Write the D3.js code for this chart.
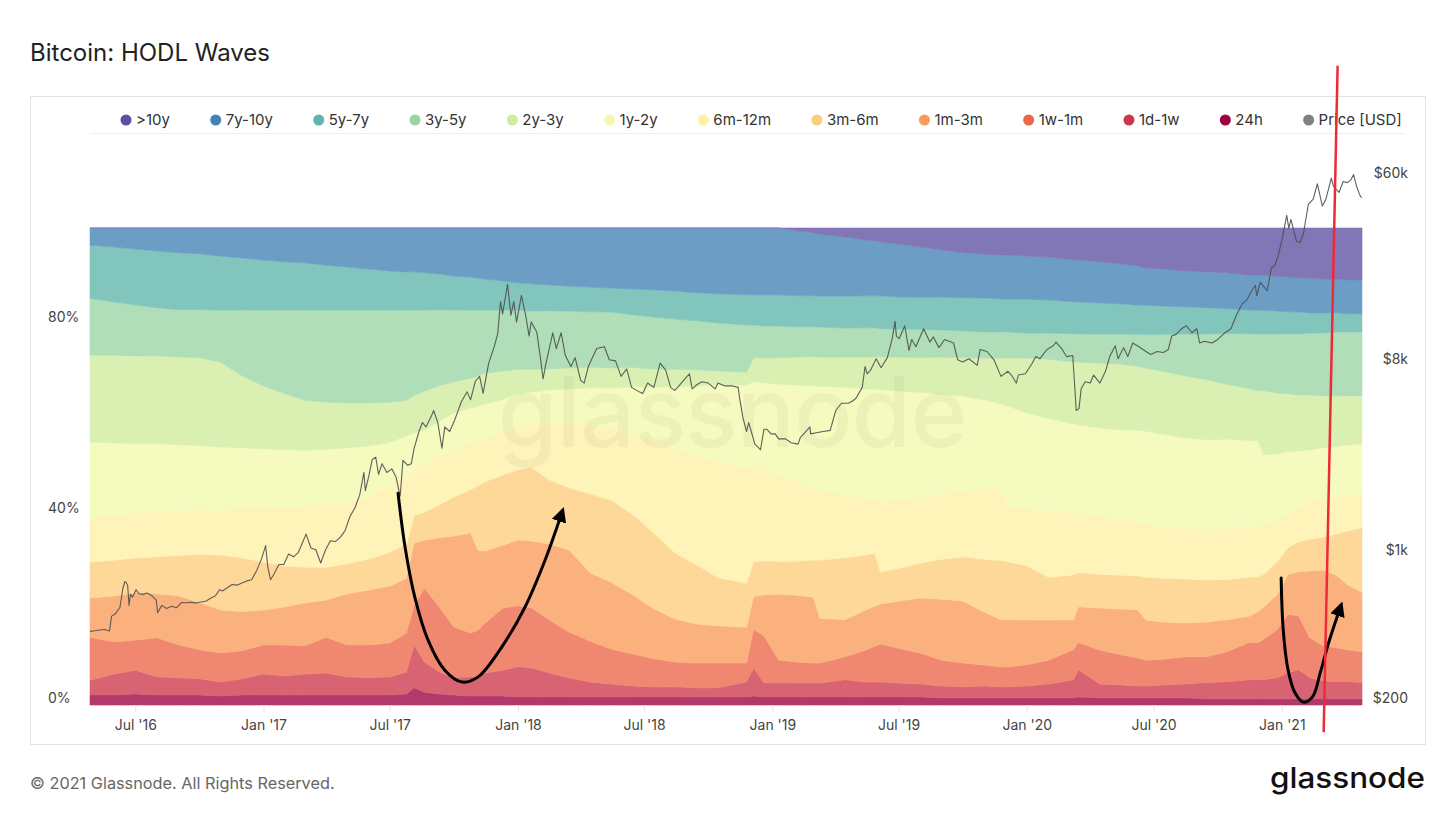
<!DOCTYPE html>
<html><head><meta charset="utf-8">
<script src="https://cdn.jsdelivr.net/npm/d3@7"></script>
<style>
html,body{margin:0;padding:0;background:#fff;}
svg{display:block;font-family:Inter,"Noto Sans",sans-serif;}
</style></head><body>
<svg id="chart" width="1456" height="819"></svg>
<script>
// ---------------- DATA ----------------
const bandDates = ["2016-04-27","2016-06-01","2016-07-01","2016-08-01","2016-09-01","2016-10-01","2016-11-01","2016-12-01","2017-01-01","2017-02-01",
"2017-03-01","2017-04-01","2017-05-01","2017-06-01","2017-07-01","2017-07-25","2017-08-05","2017-08-20","2017-09-10","2017-10-01",
"2017-10-25","2017-11-05","2017-11-15","2017-12-10","2018-01-01","2018-01-20","2018-02-15","2018-03-15","2018-04-15","2018-05-15",
"2018-06-15","2018-07-15","2018-08-15","2018-09-15","2018-10-15","2018-11-25","2018-12-05","2018-12-20","2019-01-10","2019-02-05",
"2019-03-01","2019-03-10","2019-04-15","2019-05-15","2019-05-28","2019-06-05","2019-07-01","2019-08-01","2019-09-01","2019-10-01",
"2019-11-01","2019-11-25","2019-12-05","2020-01-01","2020-02-01","2020-03-08","2020-03-15","2020-04-15","2020-05-15","2020-06-08",
"2020-06-20","2020-07-15","2020-08-15","2020-09-15","2020-10-15","2020-11-15","2020-11-28","2020-12-05","2020-12-25","2021-01-10",
"2021-01-25","2021-02-10","2021-03-01","2021-03-20","2021-04-05","2021-04-26"];

// share of supply per age band, percent
const h24 = [2.1,2.1,2.3,2.1,2.1,2.1,1.9,2.1,2.1,2.1,
 2.1,2.1,2.1,2.1,2.1,2.3,3.6,2.7,2.3,2.1,
 1.9,1.9,1.9,1.9,1.7,1.7,1.7,1.7,1.7,1.7,
 1.7,1.7,1.7,1.7,1.7,1.7,1.9,1.7,1.7,1.7,
 1.7,1.7,1.7,1.7,1.7,1.7,1.7,1.7,1.5,1.5,
 1.5,1.5,1.5,1.5,1.5,1.5,1.7,1.5,1.5,1.5,
 1.5,1.5,1.5,1.3,1.3,1.3,1.3,1.3,1.3,1.3,
 1.3,1.3,1.3,1.3,1.3,1.3];
const d1w = [3.1,4.4,5.0,3.8,3.6,3.4,2.9,3.4,4.4,4.0,
 4.4,4.6,3.8,3.6,3.8,4.6,9.0,6.3,4.6,3.6,
 4.0,4.2,4.8,5.4,6.3,6.1,5.0,4.0,3.1,2.7,
 2.3,2.1,2.1,1.9,1.9,3.1,5.9,2.9,2.9,2.9,
 2.9,2.9,3.6,3.1,3.1,3.1,2.9,2.7,2.5,2.3,
 2.5,2.3,2.3,2.5,2.9,3.8,5.7,2.9,2.7,2.5,
 2.5,2.7,2.9,3.4,3.6,4.0,4.0,4.0,4.4,5.5,
 6.1,4.4,3.8,3.6,3.6,3.4];
const w1m = [9.0,6.7,6.3,8.2,6.9,6.1,6.1,5.9,6.1,6.5,
 5.9,7.5,6.7,6.9,7.1,8.2,8.4,15.5,13.6,10.7,
 9.2,9.6,10.5,13.0,12.8,12.6,11.1,9.6,8.6,7.3,
 6.7,5.9,5.2,5.2,5.2,4.0,8.0,9.9,4.8,4.4,
 4.2,4.2,4.8,6.7,7.5,8.0,7.3,6.5,5.4,5.0,
 4.4,4.2,4.2,4.4,5.0,6.3,5.7,7.1,6.3,5.9,
 5.4,5.4,5.7,5.4,6.3,7.8,7.8,8.4,10.1,12.2,
 11.3,8.4,7.3,7.1,6.7,6.5];
const m1m3 = [8.2,9.6,9.9,9.2,10.3,9.9,9.0,8.2,7.3,8.0,
 9.0,7.8,10.7,11.5,11.9,11.5,13.0,10.1,14.5,19.1,
 21.0,16.6,15.1,13.2,13.8,14.0,15.9,17.2,14.3,14.0,
 12.4,10.5,9.0,8.2,7.8,7.5,6.9,8.6,13.8,14.0,
 13.8,9.4,7.8,8.4,8.4,8.4,9.9,11.5,12.8,13.0,
 11.1,9.9,9.9,9.4,8.4,6.3,7.5,8.8,9.6,10.1,
 8.4,7.8,7.1,7.3,6.7,5.5,6.5,6.7,7.3,8.4,
 9.2,14.0,15.9,15.3,13.6,12.4];
const m3m6 = [7.5,7.5,7.3,7.8,8.4,10.1,11.5,11.3,10.1,8.6,
 7.5,6.9,6.3,6.5,7.1,7.1,5.7,5.9,6.9,8.2,
 9.0,13.6,14.5,14.7,14.7,15.5,13.4,13.0,16.6,17.2,
 16.8,15.9,13.8,12.4,10.1,9.2,7.3,7.1,6.9,7.1,
 7.8,12.2,13.0,11.5,11.1,6.7,6.9,7.3,8.4,9.2,
 11.1,12.4,12.2,11.3,9.0,9.4,7.1,7.1,7.1,7.1,
 9.0,9.2,9.2,8.8,8.4,8.2,7.3,6.9,6.9,5.7,
 6.3,6.7,6.9,8.6,11.3,13.6];
const m6m12 = [9.4,9.4,9.4,9.4,9.4,9.4,9.4,10.3,11.1,12.2,
 12.8,13.0,12.8,13.0,14.0,14.5,9.6,10.1,10.1,9.9,
 9.6,9.4,9.2,9.0,9.2,9.2,11.9,13.4,14.5,15.3,
 16.8,19.1,22.0,23.1,24.3,24.1,20.3,19.1,18.0,16.6,
 14.9,14.7,13.2,11.7,10.9,14.7,14.3,13.8,13.6,13.8,
 14.7,15.3,11.5,11.9,13.8,13.0,12.6,12.2,11.7,11.3,
 11.1,10.7,10.5,10.5,10.7,10.7,10.7,10.5,8.8,6.9,
 7.1,7.8,7.8,7.8,7.5,7.3];
const y1y2 = [15.7,15.1,14.5,14.3,13.8,13.4,13.2,12.8,12.6,12.2,
 11.7,11.7,11.5,10.7,9.0,8.2,7.8,7.1,7.3,7.8,
 7.5,7.3,7.1,6.9,6.7,6.5,6.9,7.3,7.8,8.2,
 10.1,11.5,13.0,14.5,16.1,17.4,17.4,18.2,19.1,20.3,
 21.6,21.8,22.6,23.1,23.5,23.5,22.9,22.0,21.0,19.9,
 18.7,17.6,21.2,20.1,19.5,18.7,18.4,18.4,18.7,19.3,
 19.5,19.5,19.1,18.9,18.7,18.0,17.8,14.7,13.8,13.2,
 11.9,10.9,10.9,10.5,10.5,10.3];
const y2y3 = [18.2,18.4,18.4,18.4,18.4,18.4,17.8,15.1,13.2,11.7,
 10.5,9.9,9.4,9.0,8.4,7.5,7.8,8.2,7.5,6.5,
 6.3,6.3,6.5,5.9,5.2,4.8,4.4,4.4,4.2,4.2,
 4.0,3.8,3.6,3.4,2.9,2.7,5.0,5.2,5.5,5.9,
 6.1,6.1,6.3,6.7,6.7,6.9,7.1,7.3,7.8,8.0,
 8.8,9.6,10.1,11.5,12.4,13.0,13.2,13.6,13.8,13.4,
 13.2,13.2,13.0,12.6,11.5,10.9,10.5,13.4,12.8,12.2,
 11.7,11.5,10.9,10.7,10.3,10.1];
const y3y5 = [11.9,11.1,10.7,10.1,9.9,10.1,10.9,13.8,15.9,17.6,
 18.9,19.3,19.5,19.5,19.3,18.9,18.0,17.0,15.9,15.1,
 14.3,13.8,13.2,12.8,12.4,12.2,12.2,11.9,11.7,11.7,
 11.1,10.9,10.5,10.3,10.1,9.9,6.9,6.7,6.7,6.3,
 6.3,6.3,6.1,6.1,6.1,5.9,5.9,5.9,5.7,5.7,
 5.5,5.5,5.5,5.2,5.5,5.9,5.9,6.1,6.3,6.7,
 7.1,7.8,8.8,9.6,10.7,11.5,11.9,11.9,12.4,12.6,
 12.8,13.0,13.2,13.4,13.4,13.4];
const y5y7 = [11.1,11.5,11.7,11.9,11.9,11.7,11.3,10.9,10.5,10.1,
 9.9,9.4,9.0,8.6,8.2,8.0,8.0,7.8,7.5,7.1,
 6.9,6.7,6.5,6.1,5.7,5.7,5.4,5.2,5.2,5.0,
 5.4,5.7,5.9,5.9,6.1,6.3,6.3,6.5,6.5,6.5,
 6.5,6.5,6.7,6.7,6.7,6.9,6.7,6.7,6.9,6.9,
 7.1,6.9,6.9,7.1,6.9,6.7,6.7,6.5,6.3,6.1,
 6.1,5.9,5.7,5.5,5.2,5.0,5.0,5.0,4.8,4.6,
 4.6,4.2,4.2,4.0,3.8,3.8];
const y7y10 = [3.6,4.0,4.4,4.8,5.2,5.4,5.9,6.3,6.7,7.1,
 7.3,7.8,8.2,8.6,9.0,9.2,9.2,9.4,9.6,10.1,
 10.3,10.5,10.7,11.1,11.5,11.7,11.9,12.2,12.4,12.6,
 12.8,13.0,13.2,13.6,13.8,14.0,14.0,14.0,14.0,13.6,
 13.2,13.0,12.4,11.7,11.5,11.3,11.1,10.5,9.9,9.4,
 9.2,9.2,9.2,9.0,9.0,8.8,8.8,8.6,8.4,8.2,
 7.8,7.8,7.5,7.5,7.5,7.3,7.3,7.3,7.3,7.3,
 7.1,7.3,7.1,7.1,7.1,7.1];
const y10plus = [0,0,0,0,0,0,0,0,0,0,
 0,0,0,0,0,0,0,0,0,0,
 0,0,0,0,0,0,0,0,0,0,
 0,0,0,0,0,0,0,0,0,0.6,
 1.0,1.3,1.9,2.5,2.7,2.9,3.4,4.0,4.6,5.2,
 5.5,5.7,5.7,5.9,6.1,6.7,6.7,7.1,7.5,8.0,
 8.4,8.6,9.0,9.2,9.4,9.9,9.9,9.9,10.1,10.3,
 10.5,10.5,10.7,10.7,10.9,10.9];

// bottom -> top
const bandKeys = ["24h","1d-1w","1w-1m","1m-3m","3m-6m","6m-12m","1y-2y","2y-3y","3y-5y","5y-7y","7y-10y",">10y"];
const bandValues = [h24,d1w,w1m,m1m3,m3m6,m6m12,y1y2,y2y3,y3y5,y5y7,y7y10,y10plus];
const legendOrder = [">10y","7y-10y","5y-7y","3y-5y","2y-3y","1y-2y","6m-12m","3m-6m","1m-3m","1w-1m","1d-1w","24h"];

// BTC price, USD
const price = [
["2016-04-27",445],["2016-05-04",448],["2016-05-11",452],["2016-05-18",454],["2016-05-25",447],["2016-05-28",525],
["2016-06-02",537],["2016-06-09",578],["2016-06-13",705],["2016-06-16",765],["2016-06-18",755],["2016-06-20",735],
["2016-06-22",590],["2016-06-24",665],["2016-06-27",645],["2016-07-02",700],["2016-07-06",670],["2016-07-12",665],
["2016-07-18",675],["2016-07-25",655],["2016-07-31",625],["2016-08-02",545],["2016-08-08",590],["2016-08-15",570],
["2016-08-22",585],["2016-08-29",575],["2016-09-05",608],["2016-09-12",607],["2016-09-19",610],["2016-09-26",605],
["2016-10-03",612],["2016-10-10",617],["2016-10-17",638],["2016-10-24",655],["2016-10-30",700],["2016-11-03",690],
["2016-11-10",715],["2016-11-17",740],["2016-11-24",735],["2016-12-01",752],["2016-12-08",770],["2016-12-15",780],
["2016-12-22",860],["2016-12-29",975],["2017-01-04",1130],["2017-01-07",900],["2017-01-11",780],["2017-01-16",830],
["2017-01-23",920],["2017-01-30",920],["2017-02-06",1030],["2017-02-13",1000],["2017-02-20",1050],["2017-02-27",1190],
["2017-03-03",1280],["2017-03-10",1100],["2017-03-17",1080],["2017-03-24",935],["2017-03-31",1080],["2017-04-07",1190],
["2017-04-14",1180],["2017-04-21",1235],["2017-04-28",1330],["2017-05-05",1550],["2017-05-12",1700],["2017-05-19",1960],
["2017-05-25",2500],["2017-05-27",2050],["2017-06-01",2400],["2017-06-06",2880],["2017-06-11",2950],["2017-06-15",2450],
["2017-06-20",2750],["2017-06-27",2500],["2017-07-04",2600],["2017-07-10",2380],["2017-07-16",1930],["2017-07-20",2850],
["2017-07-27",2700],["2017-08-01",2750],["2017-08-05",3250],["2017-08-12",3900],["2017-08-17",4300],["2017-08-22",4100],
["2017-08-31",4700],["2017-09-02",4900],["2017-09-08",4300],["2017-09-14",3250],["2017-09-18",4100],["2017-09-25",3900],
["2017-10-02",4400],["2017-10-12",5400],["2017-10-20",6000],["2017-10-25",5500],["2017-11-01",6750],["2017-11-07",7100],
["2017-11-12",5900],["2017-11-20",8200],["2017-11-28",9800],["2017-12-03",11300],["2017-12-07",16000],["2017-12-10",14000],
["2017-12-17",19300],["2017-12-22",13800],["2017-12-26",16000],["2017-12-30",12800],["2018-01-06",17100],["2018-01-12",13800],
["2018-01-17",11000],["2018-01-20",12800],["2018-01-28",11500],["2018-02-02",8800],["2018-02-06",6900],["2018-02-10",8100],
["2018-02-20",11400],["2018-02-25",9600],["2018-03-04",11400],["2018-03-10",8900],["2018-03-18",7900],["2018-03-24",8700],
["2018-04-01",6800],["2018-04-06",6600],["2018-04-12",7900],["2018-04-24",9600],["2018-05-05",9800],["2018-05-12",8500],
["2018-05-21",8400],["2018-05-29",7100],["2018-06-06",7700],["2018-06-13",6300],["2018-06-24",6000],["2018-06-29",5900],
["2018-07-06",6600],["2018-07-15",6300],["2018-07-24",8200],["2018-08-01",7600],["2018-08-08",6300],["2018-08-14",6100],
["2018-08-20",6400],["2018-08-30",7000],["2018-09-04",7300],["2018-09-08",6200],["2018-09-15",6500],["2018-09-22",6700],
["2018-10-01",6600],["2018-10-11",6200],["2018-10-15",6600],["2018-10-25",6400],["2018-11-05",6400],["2018-11-13",6300],
["2018-11-15",5600],["2018-11-20",4500],["2018-11-25",3900],["2018-11-28",4300],["2018-12-07",3400],["2018-12-15",3200],
["2018-12-20",4000],["2018-12-24",4000],["2018-12-30",3800],["2019-01-05",3800],["2019-01-10",3600],["2019-01-20",3600],
["2019-01-28",3450],["2019-02-07",3400],["2019-02-10",3650],["2019-02-18",3900],["2019-02-24",4100],["2019-02-25",3800],
["2019-03-05",3850],["2019-03-15",3900],["2019-03-25",3950],["2019-04-02",4900],["2019-04-10",5300],["2019-04-20",5300],
["2019-04-25",5400],["2019-05-01",5600],["2019-05-10",6300],["2019-05-14",7900],["2019-05-17",7300],["2019-05-22",7600],
["2019-05-30",8600],["2019-06-06",7800],["2019-06-15",8700],["2019-06-22",10700],["2019-06-26",12900],["2019-06-28",11000],
["2019-07-02",10700],["2019-07-10",12300],["2019-07-16",9400],["2019-07-20",10600],["2019-07-26",9800],["2019-08-06",11900],
["2019-08-15",10300],["2019-08-20",10900],["2019-08-28",9700],["2019-09-05",10600],["2019-09-18",10200],["2019-09-24",8500],
["2019-10-01",8300],["2019-10-10",8600],["2019-10-22",8000],["2019-10-26",9500],["2019-11-05",9300],["2019-11-15",8500],
["2019-11-25",7100],["2019-12-05",7500],["2019-12-10",7200],["2019-12-17",6600],["2019-12-20",7200],["2019-12-30",7300],
["2020-01-08",8100],["2020-01-14",8800],["2020-01-20",8600],["2020-01-30",9500],["2020-02-08",9900],["2020-02-12",10300],
["2020-02-20",9600],["2020-02-27",8800],["2020-03-07",8900],["2020-03-12",4900],["2020-03-16",5000],["2020-03-19",6200],
["2020-03-25",6700],["2020-04-01",6600],["2020-04-06",7200],["2020-04-15",6600],["2020-04-23",7500],["2020-04-29",8800],
["2020-05-07",9900],["2020-05-11",8600],["2020-05-19",9700],["2020-05-25",8800],["2020-06-01",10200],["2020-06-10",9800],
["2020-06-20",9300],["2020-06-27",9000],["2020-07-06",9300],["2020-07-15",9200],["2020-07-22",9500],["2020-07-27",11000],
["2020-08-02",11200],["2020-08-10",11900],["2020-08-17",12300],["2020-08-25",11400],["2020-09-01",11900],["2020-09-05",10200],
["2020-09-12",10400],["2020-09-23",10200],["2020-10-01",10600],["2020-10-10",11300],["2020-10-20",11900],["2020-10-27",13600],
["2020-11-05",15600],["2020-11-12",16300],["2020-11-18",17800],["2020-11-24",19100],["2020-11-26",17000],["2020-12-01",19700],
["2020-12-11",18000],["2020-12-17",23000],["2020-12-22",23800],["2020-12-27",26500],["2021-01-02",32200],["2021-01-08",40800],
["2021-01-11",35500],["2021-01-14",39100],["2021-01-22",30800],["2021-01-27",30400],["2021-02-01",33500],["2021-02-08",46000],
["2021-02-15",48700],["2021-02-21",57500],["2021-02-28",45200],["2021-03-05",48400],["2021-03-13",61200],["2021-03-16",56000],
["2021-03-24",52300],["2021-03-30",58900],["2021-04-05",58200],["2021-04-10",60000],["2021-04-14",63500],["2021-04-18",56200],
["2021-04-22",51700],["2021-04-24",50000],["2021-04-26",49500]];

const pctTicks = [0,40,80];
const priceTicks = [200,1000,8000,60000];
const priceTickLabels = ["$200","$1k","$8k","$60k"];
const dateTicks = ["2016-07-01","2017-01-01","2017-07-01","2018-01-01","2018-07-01","2019-01-01","2019-07-01","2020-01-01","2020-07-01","2021-01-01"];

// hand-drawn annotations (date, percent of supply)
const arrowA = [["2017-07-13",44.4],["2017-07-23",33.1],["2017-08-06",22.6],["2017-08-25",13.6],["2017-09-18",7.3],["2017-10-13",4.8],["2017-11-05",5.9],["2017-12-09",12.2],["2018-01-11",20.5],["2018-02-09",30.4],["2018-03-05",40.3]];
const arrowB = [["2020-12-31",26.6],["2021-01-03",15.7],["2021-01-10",7.3],["2021-01-20",2.5],["2021-02-01",0.6],["2021-02-14",1.7],["2021-02-25",6.7],["2021-03-09",13.0],["2021-03-26",20.5]];
const redLine = [["2021-03-22",134],["2021-03-02",-5.7]];

// ---------------- CHART ----------------
const parse = d3.utcParse("%Y-%m-%d");
const svg = d3.select("#chart");
const W = 1456, H = 819;
svg.append("rect").attr("width", W).attr("height", H).attr("fill", "#fff");

// title
svg.append("text").attr("x", 30).attr("y", 61).attr("font-size", 24).attr("font-weight", 400)
  .attr("fill", "#222").text("Bitcoin: HODL Waves");

// frame
svg.append("rect").attr("x", 30.5).attr("y", 96.5).attr("width", 1395).attr("height", 648)
  .attr("fill", "#fff").attr("stroke", "#e2e2e2");

const x = d3.scaleUtc().domain([parse("2016-04-27"), parse("2021-04-26")]).range([90, 1362]);
const yPct = d3.scaleLinear().domain([0, 100]).range([705, 228]);
const yPrice = d3.scaleLog().domain([200, 60000]).range([705, 705 - 212 * Math.log10(300)]);

const table = bandDates.map((d, i) => {
  const row = {date: parse(d)};
  bandKeys.forEach((k, j) => row[k] = bandValues[j][i]);
  return row;
});
const stack = d3.stack().keys(bandKeys).offset(d3.stackOffsetExpand)(table);
const colors = d3.quantize(d3.interpolateSpectral, 12); // index 0 = 24h ... 11 = >10y
const colorOf = k => colors[bandKeys.indexOf(k)];
const fillOf = k => d3.interpolateRgb("#ffffff", colorOf(k))(0.78);

const area = d3.area()
  .x(d => x(d.data.date))
  .y0(d => yPct(d[0] * 100))
  .y1(d => yPct(d[1] * 100));

svg.append("g").selectAll("path").data(stack).join("path")
  .attr("d", area)
  .attr("fill", s => fillOf(s.key))
  .attr("stroke", s => fillOf(s.key))
  .attr("stroke-width", 0.6);

// watermark
svg.append("text").attr("x", 732).attr("y", 447).attr("text-anchor", "middle")
  .attr("font-size", 97).attr("font-weight", 500).attr("fill", "#000").attr("fill-opacity", 0.035)
  .attr("letter-spacing", -1).text("glassnode");

// price line
const priceLine = d3.line().x(d => x(parse(d[0]))).y(d => yPrice(d[1]));
svg.append("path").datum(price).attr("d", priceLine)
  .attr("fill", "none").attr("stroke", "#4f4f4f").attr("stroke-width", 1.1)
  .attr("stroke-linejoin", "round").attr("stroke-opacity", 0.9);

// x axis
const xAxis = d3.axisBottom(x).tickValues(dateTicks.map(parse))
  .tickFormat(d3.utcFormat("%b '%y")).tickSize(7).tickPadding(8);
const gx = svg.append("g").attr("transform", "translate(0,705)").call(xAxis);
gx.select(".domain").remove();
gx.selectAll(".tick line").attr("stroke", "#e6e6e6");
gx.selectAll(".tick text").attr("font-size", 14).attr("fill", "#444").attr("font-family", "Inter, 'Noto Sans', sans-serif");

// left axis
const yAxisL = d3.axisLeft(yPct).tickValues(pctTicks).tickFormat(d => d + "%").tickSize(0);
const gl = svg.append("g").call(yAxisL);
gl.select(".domain").remove();
gl.selectAll(".tick text").attr("x", 48).attr("dy", "-0.15em").attr("text-anchor", "start")
  .attr("font-size", 14).attr("fill", "#444").attr("font-family", "Inter, 'Noto Sans', sans-serif");

// right axis
const yAxisR = d3.axisRight(yPrice).tickValues(priceTicks)
  .tickFormat((d, i) => priceTickLabels[i]).tickSize(0);
const gr = svg.append("g").call(yAxisR);
gr.select(".domain").remove();
gr.selectAll(".tick text").attr("x", 1408).attr("dy", "-0.15em").attr("text-anchor", "end")
  .attr("font-size", 14).attr("fill", "#444").attr("font-family", "Inter, 'Noto Sans', sans-serif");

// legend
svg.append("line").attr("x1", 90).attr("x2", 1405).attr("y1", 133.5).attr("y2", 133.5)
  .attr("stroke", "#eeeeee");
const legendItems = legendOrder.map(k => ({name: k, color: colorOf(k)}))
  .concat([{name: "Price [USD]", color: "#808080"}]);
const lg = svg.append("g");
let cx = 126;
legendItems.forEach(it => {
  lg.append("circle").attr("cx", cx).attr("cy", 120).attr("r", 5.5).attr("fill", it.color);
  const t = lg.append("text").attr("x", cx + 10).attr("y", 125).attr("font-size", 15)
    .attr("fill", "#333").text(it.name);
  cx = cx + 10 + t.node().getComputedTextLength() + 45.8;
});

// annotations
const defs = svg.append("defs");
defs.append("marker").attr("id", "ah").attr("viewBox", "0 0 10 10").attr("refX", 6).attr("refY", 5)
  .attr("markerWidth", 15).attr("markerHeight", 15).attr("markerUnits", "userSpaceOnUse")
  .attr("orient", "auto").append("path").attr("d", "M0,0 L10,5 L0,10 z").attr("fill", "#000");
const annLine = d3.line().curve(d3.curveCatmullRom.alpha(0.5))
  .x(d => x(parse(d[0]))).y(d => yPct(d[1]));
[arrowA, arrowB].forEach(a => {
  svg.append("path").datum(a).attr("d", annLine).attr("fill", "none")
    .attr("stroke", "#000").attr("stroke-width", 3).attr("stroke-linecap", "round")
    .attr("marker-end", "url(#ah)");
});
svg.append("path").datum(redLine).attr("d", d3.line().x(d => x(parse(d[0]))).y(d => yPct(d[1])))
  .attr("stroke", "#ee2a36").attr("stroke-width", 2.5).attr("fill", "none");

// footer
svg.append("text").attr("x", 30).attr("y", 789).attr("font-size", 16.3).attr("fill", "#666")
  .text("© 2021 Glassnode. All Rights Reserved.");
svg.append("text").attr("x", 1425).attr("y", 788).attr("text-anchor", "end")
  .attr("font-size", 29).attr("font-weight", 500).attr("fill", "#111")
  .attr("textLength", 155).attr("lengthAdjust", "spacingAndGlyphs").text("glassnode");
</script>
</body></html>
